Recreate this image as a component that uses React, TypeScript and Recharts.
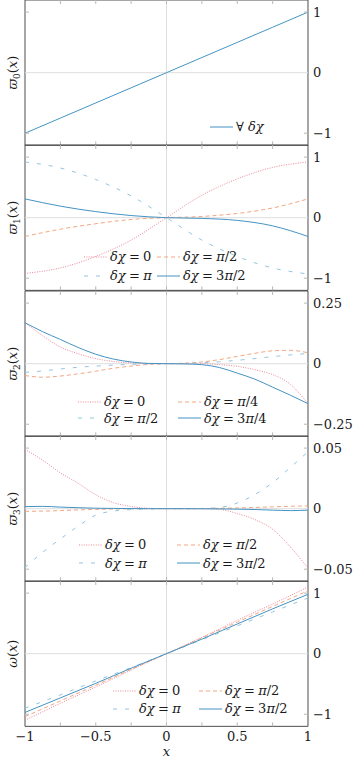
import React from 'react';
import { LineChart, Line, XAxis, YAxis, ReferenceLine, ReferenceArea, Legend } from 'recharts';

// x sample positions
const X9 = [-1, -0.75, -0.5, -0.25, 0, 0.25, 0.5, 0.75, 1];
const X17 = [-1, -0.875, -0.75, -0.625, -0.5, -0.375, -0.25, -0.125, 0, 0.125, 0.25, 0.375, 0.5, 0.625, 0.75, 0.875, 1];

const X_TICKS = [-1, -0.75, -0.5, -0.25, 0, 0.25, 0.5, 0.75, 1];
const X_LABEL_VALUES = [-1, -0.5, 0, 0.5, 1];
const X_LABELS = ['\u22121', '\u22120.5', '0', '0.5', '1'];

// varpi_0, same for every delta chi
const varpi0All = [-1, -0.75, -0.5, -0.25, 0, 0.25, 0.5, 0.75, 1];

// varpi_1
const varpi1Chi0 = [-0.92, -0.83, -0.64, -0.37, 0, 0.37, 0.64, 0.83, 0.92];
const varpi1ChiHalfPi = [-0.31, -0.19, -0.1, -0.03, 0, 0.02, 0.07, 0.16, 0.31];
const varpi1ChiPi = [0.92, 0.82, 0.63, 0.36, 0, -0.37, -0.64, -0.83, -0.93];
const varpi1Chi3HalfPi = [0.31, 0.19, 0.1, 0.035, 0, -0.012, -0.045, -0.135, -0.31];

// varpi_2
const varpi2Chi0 = [0.169, 0.115, 0.069, 0.041, 0.021, 0.009, 0.003, 0.0005, 0, 0, 0, -0.004, -0.011, -0.025, -0.045, -0.085, -0.165];
const varpi2ChiQuarterPi = [-0.049, -0.056, -0.051, -0.042, -0.031, -0.019, -0.01, -0.003, 0, 0.002, 0.007, 0.017, 0.03, 0.043, 0.053, 0.055, 0.045];
const varpi2ChiHalfPi = [-0.036, -0.03, -0.022, -0.015, -0.01, -0.006, -0.003, -0.001, 0, 0.001, 0.004, 0.008, 0.014, 0.021, 0.029, 0.036, 0.042];
const varpi2Chi3QuarterPi = [0.169, 0.132, 0.1, 0.067, 0.039, 0.019, 0.007, 0.001, 0, -0.001, -0.004, -0.016, -0.039, -0.064, -0.097, -0.13, -0.165];

// varpi_3
const varpi3Chi0 = [0.049, 0.04, 0.0296, 0.021, 0.0115, 0.005, 0.0018, 0.0003, 0, 0, 0, -0.0006, -0.004, -0.009, -0.017, -0.0316, -0.049];
const varpi3ChiHalfPi = [-0.0022, -0.002, -0.0016, -0.001, -0.0006, -0.0003, -0.0001, 0, 0, 0, 0.0001, 0.0003, 0.0006, 0.001, 0.0015, 0.002, 0.0022];
const varpi3ChiPi = [-0.0486, -0.036, -0.025, -0.0145, -0.0053, -0.002, -0.0008, -0.0002, 0, 0, 0.0002, 0.001, 0.0047, 0.0117, 0.0215, 0.034, 0.047];
const varpi3Chi3HalfPi = [0.0017, 0.0019, 0.0013, 0.0008, 0.0004, 0.0002, 0.0001, 0, 0, 0, -0.0001, -0.0002, -0.0004, -0.0007, -0.0012, -0.0016, -0.0012];

// omega
const omegaChi0 = [-1.1, -0.82, -0.55, -0.27, 0, 0.27, 0.55, 0.82, 1.1];
const omegaChiHalfPi = [-1.04, -0.78, -0.52, -0.26, 0, 0.26, 0.52, 0.78, 1.04];
const omegaChiPi = [-0.9, -0.68, -0.45, -0.23, 0, 0.23, 0.46, 0.69, 0.92];
const omegaChi3HalfPi = [-0.97, -0.73, -0.49, -0.24, 0, 0.24, 0.49, 0.74, 0.98];

const W = 353;
const PLOT_L = 25;
const PLOT_R = 308;
const PLOT_H = 145.35;
const PAD = 10;
const FONT = 'DejaVu Serif, serif';
const FS = 13;
const TEXT_C = '#1a1a1a';
const TICK_C = '#b8b8b8';
const GRID_C = '#dedede';
const FRAME_C = '#4d4d4d';

const STYLES = [
  { color: '#ec8799', dash: '1 1.4' },
  { color: '#f4a582', dash: '4 3' },
  { color: '#92c5de', dash: '4 8' },
  { color: '#4393c3', dash: undefined },
];

type Series = { label: string; values: number[]; style: number };
type Panel = {
  xs: number[];
  yMax: number;
  yTicks: number[];
  yLabels: string[];
  sym: string;
  sub?: string;
  series: Series[];
  legendCols: number[];
  legendRows: number[];
};

const panels: Panel[] = [
  {
    xs: X9, yMax: 1.2, yTicks: [-1, 0, 1], yLabels: ['\u22121', '0', '1'], sym: '\u03d6', sub: '0',
    series: [{ label: '\u2200 \u03b4\u03c7', values: varpi0All, style: 3 }],
    legendCols: [210], legendRows: [126.7],
  },
  {
    xs: X9, yMax: 1.2, yTicks: [-1, 0, 1], yLabels: ['\u22121', '0', '1'], sym: '\u03d6', sub: '1',
    series: [
      { label: '\u03b4\u03c7 = 0', values: varpi1Chi0, style: 0 },
      { label: '\u03b4\u03c7 = \u03c0/2', values: varpi1ChiHalfPi, style: 1 },
      { label: '\u03b4\u03c7 = \u03c0', values: varpi1ChiPi, style: 2 },
      { label: '\u03b4\u03c7 = 3\u03c0/2', values: varpi1Chi3HalfPi, style: 3 },
    ],
    legendCols: [84, 157], legendRows: [256.7, 276],
  },
  {
    xs: X17, yMax: 0.3, yTicks: [-0.25, 0, 0.25], yLabels: ['\u22120.25', '0', '0.25'], sym: '\u03d6', sub: '2',
    series: [
      { label: '\u03b4\u03c7 = 0', values: varpi2Chi0, style: 0 },
      { label: '\u03b4\u03c7 = \u03c0/4', values: varpi2ChiQuarterPi, style: 1 },
      { label: '\u03b4\u03c7 = \u03c0/2', values: varpi2ChiHalfPi, style: 2 },
      { label: '\u03b4\u03c7 = 3\u03c0/4', values: varpi2Chi3QuarterPi, style: 3 },
    ],
    legendCols: [78, 178], legendRows: [401.7, 418.3],
  },
  {
    xs: X17, yMax: 0.06, yTicks: [-0.05, 0, 0.05], yLabels: ['\u22120.05', '0', '0.05'], sym: '\u03d6', sub: '3',
    series: [
      { label: '\u03b4\u03c7 = 0', values: varpi3Chi0, style: 0 },
      { label: '\u03b4\u03c7 = \u03c0/2', values: varpi3ChiHalfPi, style: 1 },
      { label: '\u03b4\u03c7 = \u03c0', values: varpi3ChiPi, style: 2 },
      { label: '\u03b4\u03c7 = 3\u03c0/2', values: varpi3Chi3HalfPi, style: 3 },
    ],
    legendCols: [79, 177], legendRows: [545, 563.3],
  },
  {
    xs: X9, yMax: 1.2, yTicks: [-1, 0, 1], yLabels: ['\u22121', '0', '1'], sym: '\u03c9',
    series: [
      { label: '\u03b4\u03c7 = 0', values: omegaChi0, style: 0 },
      { label: '\u03b4\u03c7 = \u03c0/2', values: omegaChiHalfPi, style: 1 },
      { label: '\u03b4\u03c7 = \u03c0', values: omegaChiPi, style: 2 },
      { label: '\u03b4\u03c7 = 3\u03c0/2', values: omegaChi3HalfPi, style: 3 },
    ],
    legendCols: [113, 199], legendRows: [690.7, 709],
  },
];

// letters in italic, digits and symbols upright
function MathText({ text }: { text: string }) {
  const parts = text.split(/([A-Za-z\u03b1-\u03c9\u03d6]+)/);
  return (
    <>
      {parts.map((p, i) =>
        i % 2 === 1 ? <span key={i} style={{ fontStyle: 'italic' }}>{p}</span> : <span key={i}>{p.replace(/ = /g, '\u2005=\u2005')}</span>
      )}
    </>
  );
}

function XTick({ x, payload, showLabels }: any) {
  const v = payload.value;
  const bottom = PAD + PLOT_H;
  const inner = v > -1 && v < 1;
  const idx = X_LABEL_VALUES.indexOf(v);
  return (
    <g>
      {inner && <line x1={x} x2={x} y1={PAD} y2={PAD + 4} stroke={TICK_C} />}
      {inner && <line x1={x} x2={x} y1={bottom} y2={bottom - 4} stroke={TICK_C} />}
      {showLabels && idx >= 0 && (
        <text x={x} y={bottom + 15} textAnchor="middle" fontFamily={FONT} fontSize={FS} fill={TEXT_C}>
          {X_LABELS[idx]}
        </text>
      )}
    </g>
  );
}

function YTickLeft({ y, payload }: any) {
  if (payload.value === 0) return <g />;
  return <line x1={PLOT_L} x2={PLOT_L + 4} y1={y} y2={y} stroke={TICK_C} />;
}

function YTickRight({ y, payload, panel }: any) {
  const i = panel.yTicks.indexOf(payload.value);
  return (
    <g>
      {payload.value !== 0 && <line x1={PLOT_R - 4} x2={PLOT_R} y1={y} y2={y} stroke={TICK_C} />}
      <text x={PLOT_R + 5} y={y} dy={4.5} textAnchor="start" fontFamily={FONT} fontSize={FS} fill={TEXT_C}>
        {panel.yLabels[i]}
      </text>
    </g>
  );
}

function YTitle({ panel }: { panel: Panel }) {
  const cx = 17;
  const cy = PAD + PLOT_H / 2;
  return (
    <text x={cx} y={cy} transform={`rotate(-90 ${cx} ${cy})`} textAnchor="middle" fontFamily={FONT} fontSize={FS} fill={TEXT_C}>
      <tspan fontStyle="italic">{panel.sym}</tspan>
      {panel.sub && <tspan fontSize={9} dy={3}>{panel.sub}</tspan>}
      <tspan dy={panel.sub ? -3 : 0}>(</tspan>
      <tspan fontStyle="italic">x</tspan>
      <tspan>)</tspan>
    </text>
  );
}

function LegendItems({ panel, top }: { panel: Panel; top: number }) {
  return (
    <div style={{ position: 'relative', width: W, height: '100%', fontFamily: FONT, fontSize: FS, color: TEXT_C }}>
      {panel.series.map((s, i) => {
        const col = i % 2;
        const row = Math.floor(i / 2);
        const st = STYLES[s.style];
        return (
          <div
            key={i}
            style={{
              position: 'absolute',
              left: panel.legendCols[col],
              top: panel.legendRows[row] - top - 10,
              height: 20,
              display: 'flex',
              alignItems: 'center',
              whiteSpace: 'nowrap',
            }}
          >
            <svg width={23} height={20}>
              <line x1={0} x2={23} y1={10} y2={10} stroke={st.color} strokeWidth={1} strokeDasharray={st.dash} />
            </svg>
            <span style={{ marginLeft: 3 }}>
              <MathText text={s.label} />
            </span>
          </div>
        );
      })}
    </div>
  );
}

function PanelChart({ panel, index }: { panel: Panel; index: number }) {
  const last = index === panels.length - 1;
  const bottomH = last ? 36 : PAD;
  const height = PAD + PLOT_H + bottomH;
  const top = index * PLOT_H - PAD;
  const rows = panel.xs.map((x, i) => {
    const r: Record<string, number> = { x };
    panel.series.forEach((s, j) => {
      r['s' + j] = s.values[i];
    });
    return r;
  });
  return (
    <div style={{ position: 'absolute', left: 0, top }}>
      <LineChart width={W} height={height} data={rows} margin={{ top: PAD, right: 0, bottom: 0, left: 0 }}>
        <XAxis
          dataKey="x"
          type="number"
          domain={[-1, 1]}
          ticks={X_TICKS}
          interval={0}
          height={bottomH}
          axisLine={false}
          tickLine={false}
          tickSize={0}
          tickMargin={0}
          allowDataOverflow
          tick={(p: any) => <XTick {...p} showLabels={last} />}
          label={
            last
              ? () => (
                  <text x={(PLOT_L + PLOT_R) / 2} y={PAD + PLOT_H + 30} textAnchor="middle" fontFamily={FONT} fontSize={FS} fontStyle="italic" fill={TEXT_C}>
                    x
                  </text>
                )
              : undefined
          }
        />
        <YAxis
          yAxisId="l"
          orientation="left"
          width={PLOT_L}
          type="number"
          domain={[-panel.yMax, panel.yMax]}
          ticks={panel.yTicks}
          interval={0}
          allowDataOverflow
          axisLine={false}
          tickLine={false}
          tickSize={0}
          tickMargin={0}
          tick={(p: any) => <YTickLeft {...p} />}
          label={() => <YTitle panel={panel} />}
        />
        <YAxis
          yAxisId="r"
          orientation="right"
          width={W - PLOT_R}
          type="number"
          domain={[-panel.yMax, panel.yMax]}
          ticks={panel.yTicks}
          interval={0}
          allowDataOverflow
          axisLine={false}
          tickLine={false}
          tickSize={0}
          tickMargin={0}
          tick={(p: any) => <YTickRight {...p} panel={panel} />}
        />
        <ReferenceLine yAxisId="l" x={0} stroke={GRID_C} strokeWidth={1} />
        <ReferenceLine yAxisId="l" y={0} stroke={GRID_C} strokeWidth={1} />
        {panel.series.map((s, j) => (
          <Line
            key={j}
            yAxisId="l"
            type="monotone"
            dataKey={'s' + j}
            stroke={STYLES[s.style].color}
            strokeDasharray={STYLES[s.style].dash}
            strokeWidth={1}
            dot={false}
            activeDot={false}
            isAnimationActive={false}
          />
        ))}
        <ReferenceArea yAxisId="l" x1={-1} x2={1} y1={-panel.yMax} y2={panel.yMax} fill="none" fillOpacity={0} stroke={FRAME_C} strokeWidth={1} />
        <Legend
          layout="vertical"
          align="center"
          verticalAlign="middle"
          wrapperStyle={{ left: 0, top: 0, width: W, height, pointerEvents: 'none' }}
          content={() => <LegendItems panel={panel} top={top} />}
        />
      </LineChart>
    </div>
  );
}

export default function App() {
  return (
    <div style={{ position: 'absolute', left: 0, top: 0, width: W, height: 762, overflow: 'hidden', background: '#fff' }}>
      {panels.map((p, i) => (
        <PanelChart key={i} panel={p} index={i} />
      ))}
    </div>
  );
}
